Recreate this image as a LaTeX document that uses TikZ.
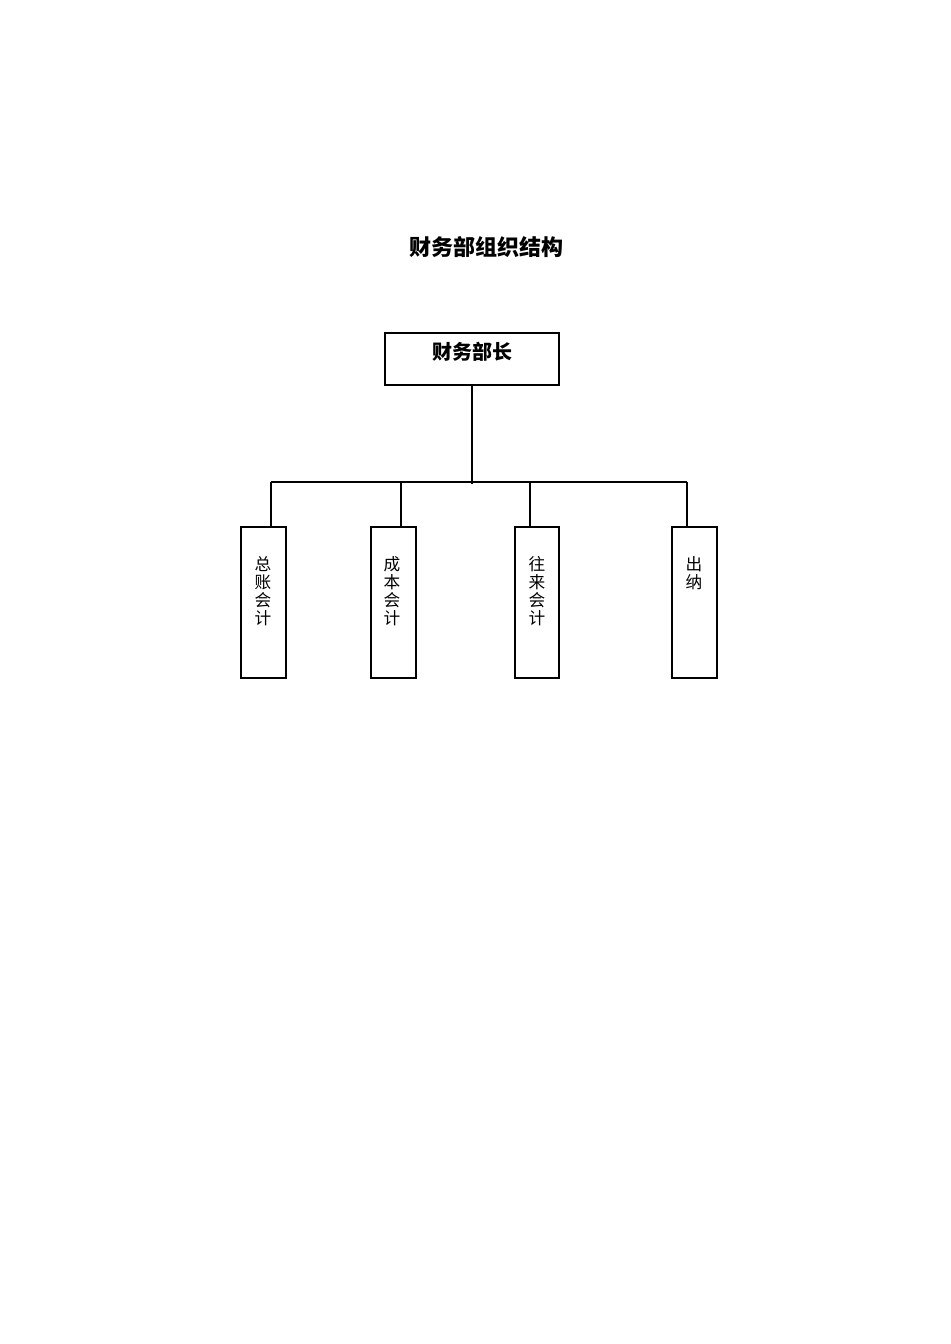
\documentclass[tikz,border=0pt]{standalone}
\usepackage{fontspec}
\newfontfamily\cjk{Noto Sans CJK SC}
\begin{document}
\begin{tikzpicture}[x=0.75pt,y=-0.75pt,
  box/.style={draw,line width=0.9pt},
  vtext/.style={font=\cjk\fontsize{12.5pt}{13.5pt}\selectfont,align=center,anchor=north,inner sep=0pt},
  ln/.style={line width=0.9pt}]
\useasboundingbox (0,0) rectangle (950,1344);
\node[font=\cjk\bfseries\fontsize{16.5pt}{18pt}\selectfont] (title) at (486,247) {财务部组织结构};
\draw[box] (385,333) rectangle (559,385);
\coordinate (top) at (472,385);
\node[font=\cjk\bfseries\fontsize{15pt}{16pt}\selectfont] (head) at (472,352) {财务部长};
\coordinate (mid) at (472,484);
\draw[ln] (top) -- (mid);
\coordinate (l) at (271,482);
\coordinate (r) at (687,482);
\draw[ln] (l) -- (r);
\foreach \xl/\xr/\xc/\tx/\n in {241/286/271/总\\账\\会\\计/a,371/416/401/成\\本\\会\\计/b,515/559/530/往\\来\\会\\计/c,672/717/687/出\\纳/d}{
  \draw[box] (\xl,527) rectangle (\xr,678);
  \draw[ln] (\xc,482) -- (\xc,527);
}
\node[vtext] (ta) at (263,556) {总\\账\\会\\计};
\node[vtext] (tb) at (392,556) {成\\本\\会\\计};
\node[vtext] (tc) at (537,556) {往\\来\\会\\计};
\node[vtext] (td) at (694,556) {出\\纳};
\end{tikzpicture}
\end{document}
